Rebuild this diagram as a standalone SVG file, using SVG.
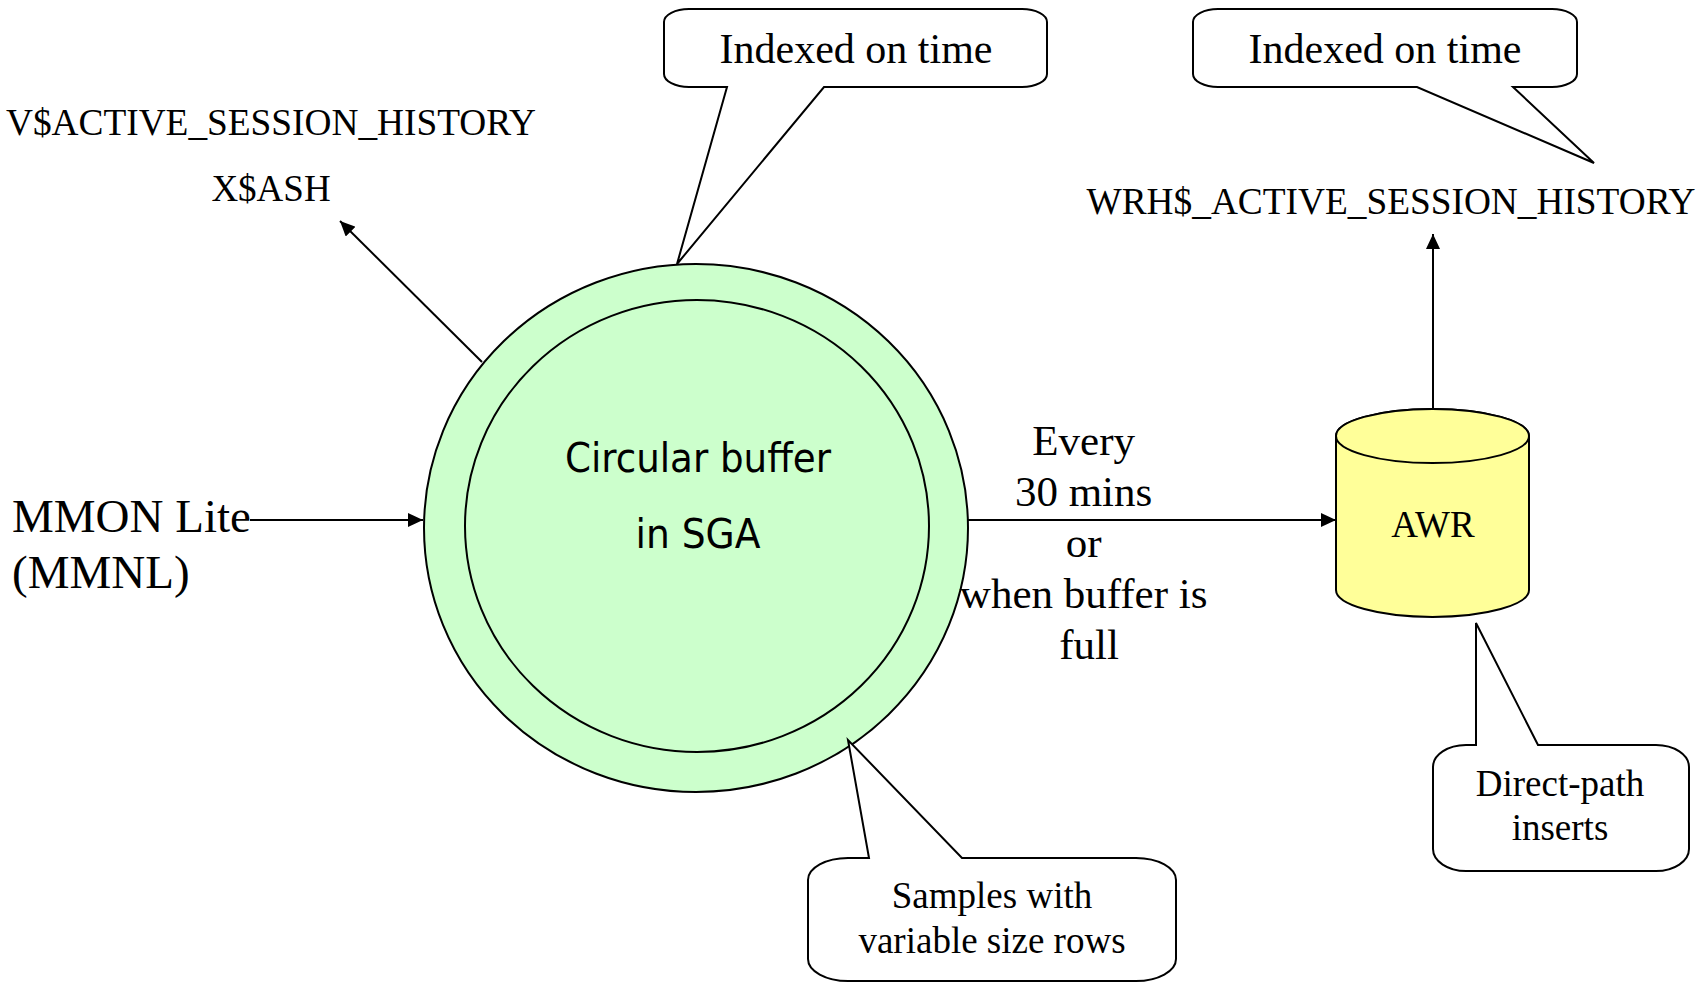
<svg xmlns="http://www.w3.org/2000/svg" width="1705" height="983" viewBox="0 0 1705 983">
<defs>
<style>
.serif{font-family:"Liberation Serif","Times New Roman",serif;fill:#000}
.sans{font-family:"DejaVu Sans Condensed","DejaVu Sans",sans-serif;fill:#000}
.ln{stroke:#000;stroke-width:2;fill:none}
.callout{fill:#fff;stroke:#000;stroke-width:2;stroke-linejoin:miter}
.ring{fill:#CCFFCC;stroke:#000;stroke-width:2}
.cyl{fill:#FFFF99;stroke:#000;stroke-width:2}
</style>
<marker id="arr" markerUnits="userSpaceOnUse" markerWidth="16" markerHeight="14" refX="15" refY="7" orient="auto">
<path d="M0,0 L15,7 L0,14 Z" fill="#000"/>
</marker>
</defs>
<rect width="1705" height="983" fill="#fff"/>

<g id="connectors">
<line class="ln" x1="482" y1="362" x2="340" y2="221" marker-end="url(#arr)"/>
<line class="ln" x1="250" y1="520" x2="423" y2="520" marker-end="url(#arr)"/>
<line class="ln" x1="968" y1="520" x2="1336" y2="520" marker-end="url(#arr)"/>
<line class="ln" x1="1433" y1="440" x2="1433" y2="234" marker-end="url(#arr)"/>
</g>

<g id="buffer">
<ellipse class="ring" cx="696" cy="528" rx="272" ry="264"/>
<ellipse class="ring" cx="697" cy="526" rx="232" ry="226"/>
<text class="sans" x="698" y="472" font-size="40" text-anchor="middle" textLength="266" lengthAdjust="spacingAndGlyphs">Circular buffer</text>
<text class="sans" x="698" y="548" font-size="40" text-anchor="middle" textLength="125" lengthAdjust="spacingAndGlyphs">in SGA</text>
</g>

<g id="mmon">
<text class="serif" x="12" y="532" font-size="47">MMON Lite</text>
<text class="serif" x="12" y="588" font-size="47">(MMNL)</text>
</g>

<g id="vash">
<text class="serif" x="6" y="135" font-size="37" textLength="530" lengthAdjust="spacingAndGlyphs">V$ACTIVE_SESSION_HISTORY</text>
<text class="serif" x="271" y="201" font-size="37" text-anchor="middle">X$ASH</text>
</g>

<g id="callout-index1">
<path class="callout" d="M689,9 H1022 A25 13 0 0 1 1047,22 V74 A25 13 0 0 1 1022,87 H824 L677,264 L727,87 H689 A25 13 0 0 1 664,74 V22 A25 13 0 0 1 689,9 Z"/>
<text class="serif" x="856" y="63" font-size="42" text-anchor="middle">Indexed on time</text>
</g>

<g id="callout-index2">
<path class="callout" d="M1218,9 H1552 A25 13 0 0 1 1577,22 V74 A25 13 0 0 1 1552,87 H1513 L1594,163 L1417,87 H1218 A25 13 0 0 1 1193,74 V22 A25 13 0 0 1 1218,9 Z"/>
<text class="serif" x="1385" y="63" font-size="42" text-anchor="middle">Indexed on time</text>
</g>

<g id="wrh">
<text class="serif" x="1391" y="214" font-size="37" text-anchor="middle" textLength="609" lengthAdjust="spacingAndGlyphs">WRH$_ACTIVE_SESSION_HISTORY</text>
</g>

<g id="awr">
<path class="cyl" d="M1336,436 A96.5 27 0 0 1 1529,436 V590 A96.5 27 0 0 1 1336,590 Z"/>
<ellipse class="cyl" cx="1432.5" cy="436" rx="96.5" ry="27"/>
<text class="serif" x="1433" y="537" font-size="37" text-anchor="middle">AWR</text>
</g>

<g id="flow-label">
<text class="serif" font-size="43" text-anchor="middle">
<tspan x="1089" y="455">Every</tspan>
<tspan x="1089" y="506">30 mins</tspan>
<tspan x="1089" y="557">or</tspan>
<tspan x="1089" y="608">when buffer is</tspan>
<tspan x="1089" y="659">full</tspan>
</text>
</g>

<g id="callout-direct">
<path class="callout" d="M1476,745 V623 L1538,745 H1656 A33 22 0 0 1 1689,767 V849 A33 22 0 0 1 1656,871 H1466 A33 22 0 0 1 1433,849 V767 A33 22 0 0 1 1466,745 Z"/>
<text class="serif" x="1560" y="796" font-size="37" text-anchor="middle">Direct-path</text>
<text class="serif" x="1560" y="840" font-size="37" text-anchor="middle">inserts</text>
</g>

<g id="callout-samples">
<path class="callout" d="M869,858 L848,740 L962,858 H1136 A40 22 0 0 1 1176,880 V959 A40 22 0 0 1 1136,981 H848 A40 22 0 0 1 808,959 V880 A40 22 0 0 1 848,858 Z"/>
<text class="serif" x="992" y="908" font-size="37" text-anchor="middle">Samples with</text>
<text class="serif" x="992" y="953" font-size="37" text-anchor="middle">variable size rows</text>
</g>
</svg>
